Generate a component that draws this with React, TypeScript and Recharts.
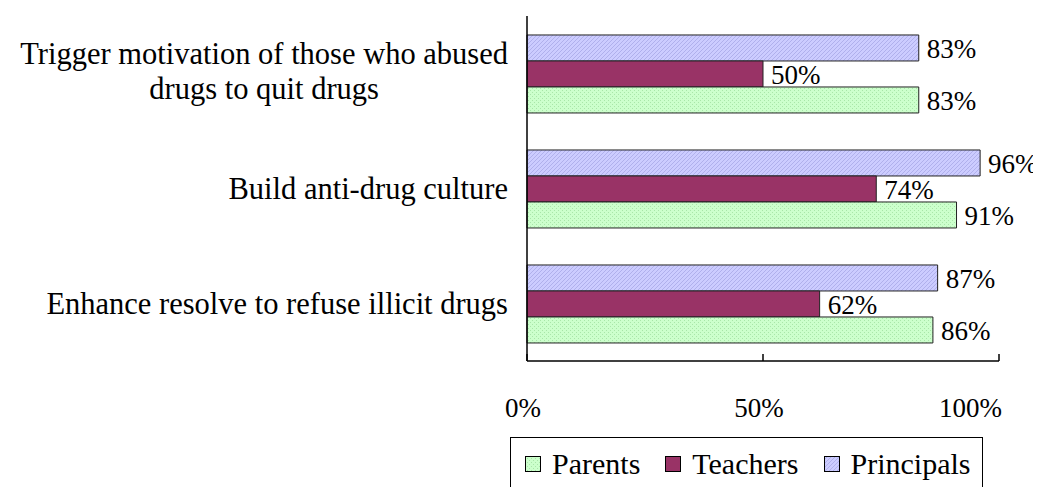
import { BarChart, Bar, XAxis, YAxis, LabelList, Legend } from 'recharts'

const categories = [
  'Trigger motivation of those who abused drugs to quit drugs',
  'Build anti-drug culture',
  'Enhance resolve to refuse illicit drugs',
]
const parents = [83, 91, 86]
const teachers = [50, 74, 62]
const principals = [83, 96, 87]
const xTicks = [0, 50, 100]
const boundaryTicks = [0, 1, 2, 3]

const series = [
  { key: 'parents', name: 'Parents', fill: 'url(#patParents)' },
  { key: 'teachers', name: 'Teachers', fill: '#993366' },
  { key: 'principals', name: 'Principals', fill: 'url(#patPrincipals)' },
]

const data = categories.map((category, i) => ({
  category,
  parents: parents[i],
  teachers: teachers[i],
  principals: principals[i],
}))

const FONT = '"Liberation Serif", Tinos, "Times New Roman", "DejaVu Serif", serif'

let ctx: CanvasRenderingContext2D | null = null
function measure(text: string, size: number): number {
  if (!ctx && typeof document !== 'undefined') {
    ctx = document.createElement('canvas').getContext('2d')
  }
  if (!ctx) return text.length * size * 0.45
  ctx.font = `${size}px "Liberation Serif"`
  return ctx.measureText(text).width
}

function wrap(text: string, size: number, maxWidth: number): string[] {
  const words = text.split(' ')
  const lines: string[] = []
  let cur = ''
  for (const w of words) {
    const next = cur ? cur + ' ' + w : w
    if (cur && measure(next, size) > maxWidth) {
      lines.push(cur)
      cur = w
    } else {
      cur = next
    }
  }
  if (cur) lines.push(cur)
  return lines
}

// eslint-disable-next-line @typescript-eslint/no-explicit-any
function CategoryTick({ x, y, payload }: any) {
  const size = 30.5
  const lh = 35
  const lines = wrap(payload.value, size, 505)
  const block = Math.max(...lines.map((l) => measure(l, size)))
  const cx = x - block / 2
  const y0 = y - ((lines.length - 1) * lh) / 2 - (lines.length > 1 ? 3 : 0)
  return (
    <text x={cx} y={y0} textAnchor="middle" fontSize={size} fontFamily={FONT} fill="#000">
      {lines.map((l, i) => (
        <tspan key={i} x={cx} y={y0 + i * lh} dy="0.35em">
          {l}
        </tspan>
      ))}
    </text>
  )
}

// last label is kept inside the plot, like the original
// eslint-disable-next-line @typescript-eslint/no-explicit-any
function PercentTick({ x, y, payload }: any) {
  const last = payload.value === xTicks[xTicks.length - 1]
  return (
    <text
      x={last ? x + 3 : x - 4}
      y={y}
      dy="0.71em"
      textAnchor={last ? 'end' : 'middle'}
      fontSize={27}
      fontFamily={FONT}
      fill="#000"
    >
      {`${payload.value}%`}
    </text>
  )
}

function LegendBox() {
  return (
    <div
      style={{
        width: 473,
        height: 58,
        boxSizing: 'border-box',
        border: '1px solid #000',
        display: 'flex',
        alignItems: 'flex-start',
        paddingTop: 9,
        paddingLeft: 14,
        fontFamily: FONT,
        fontSize: 30,
        lineHeight: '34px',
        color: '#000',
        background: '#fff',
      }}
    >
      {series.map((s) => (
        <span key={s.key} style={{ display: 'inline-flex', alignItems: 'center', marginRight: 25 }}>
          <svg width={16} height={16} style={{ marginRight: 11 }}>
            <rect x={0.5} y={0.5} width={15} height={15} fill={s.fill} stroke="#000" strokeWidth={1} />
          </svg>
          {s.name}
        </span>
      ))}
    </div>
  )
}

export default function App() {
  return (
    <div style={{ width: 1033, height: 479, overflow: 'hidden' }}>
      <BarChart
        width={1033}
        height={479}
        data={data}
        layout="vertical"
        margin={{ top: 8, right: 42, left: 0, bottom: 66 }}
        barCategoryGap="16.5%"
        barGap={0}
      >
        <defs>
          <pattern id="patParents" width={4} height={4} patternUnits="userSpaceOnUse">
            <rect width={4} height={4} fill="#ccffcc" />
            <rect x={0} y={0} width={1} height={1} fill="#a9e6a9" />
            <rect x={2} y={2} width={1} height={1} fill="#a9e6a9" />
          </pattern>
          <pattern id="patPrincipals" width={4} height={4} patternUnits="userSpaceOnUse">
            <rect width={4} height={4} fill="#ccccff" />
            <rect x={0} y={3} width={1} height={1} fill="#b0b0ec" />
            <rect x={1} y={2} width={1} height={1} fill="#b0b0ec" />
            <rect x={2} y={1} width={1} height={1} fill="#b0b0ec" />
            <rect x={3} y={0} width={1} height={1} fill="#b0b0ec" />
          </pattern>
        </defs>
        <YAxis
          yAxisId="bounds"
          type="number"
          domain={[0, 3]}
          ticks={boundaryTicks}
          allowDataOverflow
          mirror
          width={0}
          axisLine={false}
          tick={false}
          tickLine={{ stroke: '#000', strokeWidth: 1.5 }}
          tickSize={9}
        />
        <YAxis
          yAxisId="cat"
          type="category"
          dataKey="category"
          width={519}
          axisLine={{ stroke: '#000', strokeWidth: 1.5 }}
          tickLine={false}
          tickSize={0}
          tickMargin={19}
          tick={<CategoryTick />}
          interval={0}
        />
        <XAxis
          type="number"
          domain={[0, 100]}
          ticks={xTicks}
          height={60}
          axisLine={{ stroke: '#000', strokeWidth: 1.5 }}
          tickLine={{ stroke: '#000', strokeWidth: 1.5 }}
          tickSize={-7}
          tickMargin={44}
          tick={<PercentTick />}
        />
        {[...series].reverse().map((s) => (
          <Bar
            key={s.key}
            yAxisId="cat"
            dataKey={s.key}
            name={s.name}
            fill={s.fill}
            stroke="#222"
            strokeWidth={1}
            isAnimationActive={false}
          >
            <LabelList
              dataKey={s.key}
              position="right"
              offset={8}
              formatter={(v: unknown) => `${v}%`}
              style={{ fontSize: 27, fill: '#000', fontFamily: FONT }}
            />
          </Bar>
        ))}
        <Legend
          verticalAlign="middle"
          align="center"
          layout="horizontal"
          wrapperStyle={{ left: 502, top: 429, width: 473 }}
          content={() => <LegendBox />}
        />
      </BarChart>
    </div>
  )
}
